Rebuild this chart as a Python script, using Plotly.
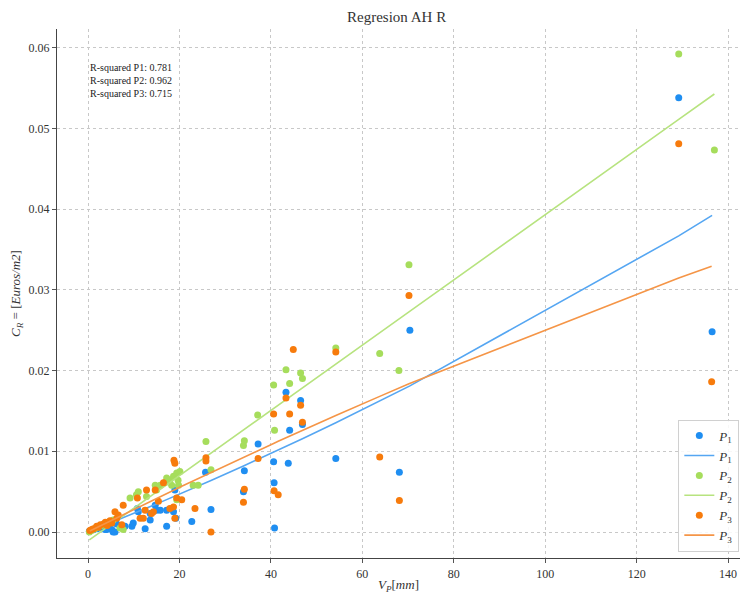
import numpy as np
import plotly.graph_objects as go

# ---------------- data ----------------
p1_x = [0.3, 1.2, 2.0, 2.6, 3.1, 3.7, 4.1, 4.6, 5.2, 5.5, 5.9, 6.3, 8.1, 9.6, 9.9,
        10.8, 11.0, 12.5, 13.6, 13.6, 14.7, 15.0, 15.8, 17.2, 17.2, 18.7, 19.0,
        19.2, 22.7, 25.7, 26.9, 34.0, 34.2, 37.2, 40.6, 40.7, 40.8, 43.3, 43.8,
        44.1, 46.5, 46.9, 54.2, 68.1, 70.4, 129.2, 136.5]
p1_y = [0.0001, 0.0003, 0.0004, 0.0006, 0.0006, 0.0003, 0.0003, 0.0008, 0.0003,
        0.0000, 0.0000, 0.0010, 0.0007, 0.0007, 0.0011, 0.0029, 0.0025, 0.0004,
        0.0023, 0.0015, 0.0033, 0.0027, 0.0027, 0.0007, 0.0027, 0.0025, 0.0052,
        0.0017, 0.0013, 0.0074, 0.0028, 0.0050, 0.0076, 0.0109, 0.0087, 0.0061,
        0.0005, 0.0173, 0.0085, 0.0126, 0.0163, 0.0133, 0.0091, 0.0074, 0.0250,
        0.0538, 0.0248]

p2_x = [0.3, 0.8, 1.5, 2.2, 3.0, 3.8, 4.5, 5.5, 7.0, 7.7, 9.2, 10.6, 11.0, 12.8,
        14.7, 15.0, 15.8, 16.8, 17.2, 17.9, 18.3, 18.7, 19.4, 19.7, 19.8, 19.4,
        20.1, 23.0, 24.1, 25.8, 26.9, 34.0, 34.2, 37.1, 40.6, 40.8, 43.3, 44.1,
        46.5, 46.9, 54.2, 63.8, 68.0, 70.2, 129.2, 137.0]
p2_y = [0.0000, 0.0002, 0.0004, 0.0006, 0.0008, 0.0010, 0.0012, 0.0015, 0.0005,
        0.0003, 0.0042, 0.0046, 0.0050, 0.0044, 0.0058, 0.0052, 0.0058, 0.0061,
        0.0067, 0.0064, 0.0058, 0.0069, 0.0073, 0.0064, 0.0058, 0.0040, 0.0075,
        0.0058, 0.0058, 0.0112, 0.0077, 0.0107, 0.0113, 0.0145, 0.0182, 0.0126,
        0.0201, 0.0184, 0.0197, 0.0190, 0.0228, 0.0221, 0.0200, 0.0331, 0.0592,
        0.0473]

p3_x = [0.4, 0.8, 1.2, 1.9, 2.3, 2.7, 3.4, 3.8, 4.2, 4.8, 5.2, 5.9, 6.3, 6.6, 7.4,
        7.7, 10.8, 11.4, 12.1, 12.5, 12.8, 13.9, 14.3, 14.7, 15.4, 16.5, 17.9,
        18.7, 18.8, 19.0, 19.0, 19.4, 20.5, 23.4, 25.8, 25.8, 26.9, 34.0, 34.2,
        37.2, 40.6, 40.7, 41.6, 43.3, 44.1, 44.9, 46.5, 46.9, 54.2, 63.8, 68.1,
        70.2, 129.2, 136.4]
p3_y = [0.0002, 0.0003, 0.0004, 0.0007, 0.0006, 0.0009, 0.0010, 0.0012, 0.0008,
        0.0014, 0.0011, 0.0025, 0.0017, 0.0021, 0.0009, 0.0033, 0.0042, 0.0017,
        0.0017, 0.0027, 0.0052, 0.0023, 0.0025, 0.0052, 0.0038, 0.0061, 0.0029,
        0.0031, 0.0089, 0.0085, 0.0017, 0.0042, 0.0040, 0.0029, 0.0092, 0.0088,
        0.0000, 0.0037, 0.0053, 0.0091, 0.0146, 0.0051, 0.0046, 0.0166, 0.0146,
        0.0226, 0.0157, 0.0136, 0.0223, 0.0093, 0.0039, 0.0293, 0.0481, 0.0186]

# regression coefficients (c + a*x + b*x^2)
fit_p1 = [0.0, 2.25e-4, 4.56e-7]
fit_p2 = [-0.0011, 4.04e-4, 0.0]
fit_p3 = [0.0, 2.826e-4, -3.02e-7]

r2_labels = ["R-squared P1: 0.781", "R-squared P2: 0.962", "R-squared P3: 0.715"]
series_names = ["<i>P</i><sub>1</sub>", "<i>P</i><sub>2</sub>", "<i>P</i><sub>3</sub>"]
x_ticks = [0, 20, 40, 60, 80, 100, 120, 140]
y_ticks = [0.00, 0.01, 0.02, 0.03, 0.04, 0.05, 0.06]

# ---------------- styling ----------------
marker_colors = ["#1f8ef1", "#a6dd5c", "#f77b0c"]
line_colors = ["#55a6f2", "#b7e37f", "#f59547"]
FONT = "Liberation Serif, DejaVu Serif, serif"

fig = go.Figure()
series = [(p1_x, p1_y, fit_p1), (p2_x, p2_y, fit_p2), (p3_x, p3_y, fit_p3)]
for i, (xs, ys, coef) in enumerate(series):
    fig.add_trace(go.Scatter(
        x=xs, y=ys, mode="markers", name=series_names[i],
        marker=dict(color=marker_colors[i], size=7, line=dict(width=0)),
    ))
    xf = np.sort(np.array(xs))
    yf = coef[0] + coef[1] * xf + coef[2] * xf ** 2
    fig.add_trace(go.Scatter(
        x=xf, y=yf, mode="lines", name=series_names[i],
        line=dict(color=line_colors[i], width=1.6),
    ))

fig.add_annotation(
    x=0, y=0.0584, xref="x", yref="y", xanchor="left", yanchor="top",
    text="<br>".join(r2_labels), showarrow=False, align="left",
    font=dict(family=FONT, size=10, color="#222"),
)

grid = dict(showgrid=True, gridcolor="#c8c8c8", griddash="dot", gridwidth=1)
fig.update_layout(
    width=740, height=594,
    margin=dict(l=57, r=0, t=29, b=36),
    paper_bgcolor="white", plot_bgcolor="white",
    font=dict(family=FONT, size=12, color="#333"),
    title=dict(text="Regresion AH R", x=0.536, xanchor="center", y=0.971,
               yanchor="middle", font=dict(family=FONT, size=15, color="#333")),
    xaxis=dict(range=[-6.78, 142.6], tickvals=x_ticks, ticks="outside", ticklen=4,
               tickcolor="#555", showline=True, linecolor="#444", linewidth=1.2,
               zeroline=False, mirror=False, automargin=False,
               title=dict(text="<i>V</i><sub><i>P</i></sub>[<i>mm</i>]", standoff=2,
                          font=dict(family=FONT, size=13)),
               tickfont=dict(family=FONT, size=12), **grid),
    yaxis=dict(range=[-0.00322, 0.0623], tickvals=y_ticks, tickformat=".2f",
               ticks="outside", ticklen=4, tickcolor="#555", showline=True,
               linecolor="#444", linewidth=1.2, zeroline=False, automargin=False,
               title=dict(text="<i>C</i><sub><i>R</i></sub> = [<i>Euros/m2</i>]",
                          standoff=4, font=dict(family=FONT, size=13)),
               tickfont=dict(family=FONT, size=12), **grid),
    legend=dict(x=0.999, y=0.012, xanchor="right", yanchor="bottom",
                bgcolor="rgba(255,255,255,0.85)", bordercolor="#d0d0d0",
                borderwidth=1, itemwidth=30, tracegroupgap=0,
                font=dict(family=FONT, size=13, color="#333")),
    showlegend=True,
)

fig.write_html("out.html", config={"displayModeBar": False},
               post_script="document.body.style.margin='0px';document.body.style.overflow='hidden';")
